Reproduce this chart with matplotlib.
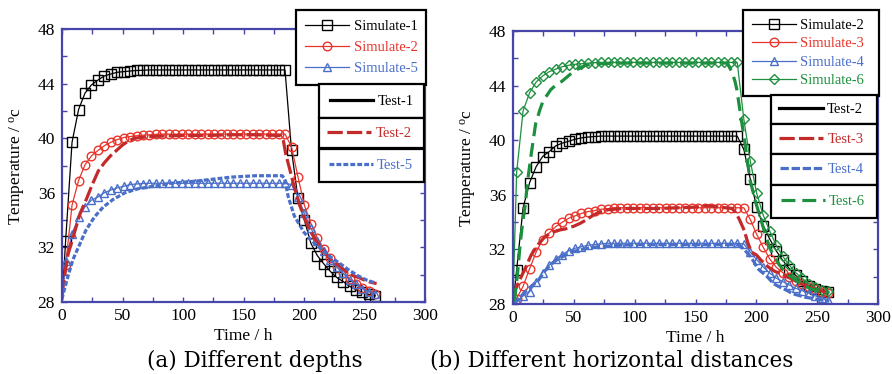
import matplotlib
matplotlib.use('Agg')
import matplotlib.pyplot as plt
from matplotlib.lines import Line2D
from matplotlib.ticker import MultipleLocator

plt.rcParams['font.family'] = 'Liberation Serif'
plt.rcParams['mathtext.fontset'] = 'custom'
plt.rcParams['mathtext.rm'] = 'Liberation Serif'
plt.rcParams['mathtext.it'] = 'Liberation Serif:italic'
plt.rcParams['lines.scale_dashes'] = False

# ---------------- data ----------------
t_sim = [0.0, 3.0, 8.3, 13.7, 19.0, 24.3, 29.7, 35.0, 40.3, 45.7, 51.0, 56.3, 61.7,
         67.0, 72.3, 77.7, 83.0, 88.3, 93.7, 99.0, 104.3, 109.7, 115.0, 120.3, 125.7,
         131.0, 136.3, 141.7, 147.0, 152.3, 157.7, 163.0, 168.3, 173.7, 179.0, 184.3,
         189.7, 195.0, 200.3, 205.7, 211.0, 216.3, 221.7, 227.0, 232.3, 237.7, 243.0,
         248.3, 253.7, 259.0]

# panel (a)
sim1_a = [28.0, 32.5, 39.7, 42.1, 43.3, 43.9, 44.26, 44.56, 44.7, 44.83, 44.88, 44.92, 44.96,
          44.98, 45.0, 45.0, 45.0, 45.0, 45.0, 45.0, 45.0, 45.0, 45.0, 45.0, 45.0,
          45.0, 45.0, 45.0, 45.0, 45.0, 45.0, 45.0, 45.0, 45.0, 45.0, 45.0,
          39.1, 35.6, 34.0, 32.3, 31.4, 30.8, 30.25, 29.8, 29.5, 29.15, 28.9,
          28.7, 28.55, 28.45]
sim2_a = [28.3, 30.7, 35.1, 36.9, 38.05, 38.7, 39.1, 39.45, 39.7, 39.9, 40.05, 40.12, 40.18,
          40.22, 40.25, 40.28, 40.3, 40.3, 40.3, 40.3, 40.3, 40.3, 40.3, 40.3, 40.3,
          40.3, 40.3, 40.3, 40.3, 40.3, 40.3, 40.3, 40.3, 40.3, 40.3, 40.3,
          39.37, 37.17, 35.1, 33.75, 32.7, 31.9, 31.25, 30.6, 30.1, 29.7, 29.35,
          29.05, 28.8, 28.6]
sim5_a = [28.0, 31.0, 33.0, 34.2, 34.97, 35.46, 35.7, 36.0, 36.2, 36.36, 36.48, 36.6, 36.65,
          36.68, 36.7, 36.7, 36.7, 36.7, 36.7, 36.7, 36.7, 36.7, 36.7, 36.7, 36.7,
          36.7, 36.7, 36.7, 36.7, 36.7, 36.7, 36.7, 36.7, 36.7, 36.7, 36.7,
          36.6, 35.7, 34.5, 33.4, 32.5, 31.7, 31.05, 30.57, 30.1, 29.64, 29.3,
          28.98, 28.73, 28.6]

t_test2_a = [0, 2, 5, 10, 15, 20, 25, 30, 35, 40, 45, 50, 55, 60, 70, 80, 100, 120, 140, 160,
             180, 183, 185, 188, 192, 196, 200, 205, 210, 215, 220, 225, 230, 235, 240, 245,
             250, 255, 260]
test2_a = [28.5, 29.8, 31.5, 33.0, 34.5, 35.5, 36.6, 37.6, 38.2, 38.7, 39.1, 39.5, 39.8, 40.0,
           40.1, 40.15, 40.2, 40.2, 40.25, 40.25, 40.2, 39.8, 38.8, 37.8, 36.4, 35.2, 34.2,
           33.2, 32.5, 31.9, 31.3, 30.9, 30.6, 30.2, 29.95, 29.8, 29.6, 29.45, 29.35]

t_test5_a = [0, 1, 5, 9, 15, 20, 27, 34, 42, 52, 63, 77, 90, 110, 125, 140, 160, 182, 184, 187,
             192, 196, 200, 205, 210, 215, 222, 230, 237, 245, 252, 259]
test5_a = [28.2, 28.6, 29.9, 31.1, 32.3, 33.3, 34.25, 34.95, 35.5, 36.0, 36.3, 36.5, 36.7,
           36.85, 37.0, 37.15, 37.25, 37.25, 37.0, 35.7, 34.3, 33.7, 33.1, 32.6, 32.2, 31.8,
           31.3, 30.8, 30.35, 29.9, 29.6, 29.4]

# panel (b)
sim2_b = [28.0, 30.5, 35.06, 36.9, 38.06, 38.8, 39.16, 39.58, 39.78, 39.92, 40.07, 40.17, 40.23,
          40.27, 40.3, 40.3, 40.3, 40.3, 40.3, 40.3, 40.3, 40.3, 40.3, 40.3, 40.3,
          40.3, 40.3, 40.3, 40.3, 40.3, 40.3, 40.3, 40.3, 40.3, 40.3, 40.3,
          39.33, 37.16, 35.08, 33.74, 32.76, 31.9, 31.2, 30.6, 30.1, 29.65, 29.35,
          29.12, 28.97, 28.9]
sim3_b = [28.0, 28.4, 29.3, 30.6, 31.8, 32.7, 33.2, 33.66, 33.98, 34.28, 34.45, 34.64, 34.77,
          34.84, 34.94, 34.98, 35.05, 35.05, 35.05, 35.05, 35.05, 35.05, 35.05, 35.05, 35.05,
          35.05, 35.05, 35.05, 35.05, 35.05, 35.05, 35.05, 35.05, 35.05, 35.05, 35.05,
          35.05, 34.2, 33.1, 32.15, 31.3, 30.7, 30.3, 29.95, 29.7, 29.45, 29.25,
          29.08, 28.9, 28.8]
sim4_b = [28.0, 28.2, 28.6, 28.9, 29.6, 30.3, 30.85, 31.3, 31.62, 31.9, 32.08, 32.2, 32.3,
          32.36, 32.4, 32.45, 32.45, 32.45, 32.45, 32.45, 32.45, 32.45, 32.45, 32.45, 32.45,
          32.45, 32.45, 32.45, 32.45, 32.45, 32.45, 32.45, 32.45, 32.45, 32.45, 32.45,
          32.4, 31.8, 31.25, 30.7, 30.27, 29.9, 29.64, 29.4, 29.15, 28.98, 28.8,
          28.6, 28.45, 28.3]
sim6_b = [28.3, 37.65, 42.16, 43.48, 44.26, 44.7, 45.02, 45.2, 45.38, 45.49, 45.56, 45.6, 45.65,
          45.68, 45.7, 45.7, 45.7, 45.7, 45.7, 45.7, 45.7, 45.7, 45.7, 45.7, 45.7,
          45.7, 45.7, 45.7, 45.7, 45.7, 45.7, 45.7, 45.7, 45.7, 45.7, 45.7,
          41.55, 38.48, 36.1, 34.5, 33.35, 32.3, 31.5, 30.86, 30.3, 29.88, 29.5,
          29.22, 29.03, 28.95]

t_test3_b = [0, 1.6, 6, 10, 15, 21, 26, 31, 37, 43, 50, 55, 60, 65, 70, 78, 90, 120, 150, 160,
             180, 183, 186, 190, 193, 196, 200, 204, 210, 215, 220, 225, 230, 236, 245, 252, 260]
test3_b = [28.5, 29.0, 29.85, 30.6, 31.6, 32.4, 32.9, 33.2, 33.4, 33.5, 33.7, 33.9, 34.15, 34.45,
           34.7, 34.9, 35.0, 35.0, 35.1, 35.2, 35.0, 34.7, 34.2, 33.4, 32.5, 31.8, 31.6, 31.2,
           30.7, 30.4, 30.2, 30.0, 29.8, 29.5, 29.2, 29.0, 28.8]

t_test4_b = [0, 3, 10, 15, 21, 26, 32, 37, 43, 48, 54, 62, 70, 87, 100, 183, 186, 190, 194, 198,
             201, 205, 209, 214, 220, 225, 230, 240, 250, 260]
test4_b = [28.0, 28.2, 28.9, 29.3, 29.75, 30.4, 30.96, 31.3, 31.57, 31.8, 31.95, 32.1, 32.2,
           32.3, 32.35, 32.35, 32.3, 32.0, 31.6, 31.1, 30.6, 30.3, 30.0, 29.5, 29.2, 29.0,
           28.75, 28.5, 28.35, 28.2]

t_test6_b = [0, 1.6, 4, 6, 8, 10, 12, 15, 18.6, 22, 25, 28, 31, 36, 40, 44, 48, 55, 60, 70, 90,
             176, 180, 182.5, 184, 186.5, 190.6, 194.8, 199, 203, 207, 211, 214, 218, 222, 227,
             233, 238, 245, 252, 260]
test6_b = [28.2, 28.5, 30.5, 32.5, 34.0, 35.2, 37.0, 39.0, 41.2, 42.2, 42.95, 43.3, 43.7, 44.1,
           44.3, 44.6, 44.9, 45.3, 45.5, 45.6, 45.65, 45.65, 45.0, 44.3, 43.7, 42.2, 39.8, 37.1,
           35.6, 34.4, 33.2, 32.1, 31.6, 31.0, 30.5, 30.1, 29.7, 29.4, 29.1, 28.95, 28.85]

x_ticks = [0, 50, 100, 150, 200, 250, 300]
y_ticks = [28, 32, 36, 40, 44, 48]

# ---------------- styling ----------------
SPINE = '#4646a8'
BLACK = '#000000'
RED = '#e8352c'
DRED = '#c42a2a'
BLUE = '#4a6fc8'
GREEN = '#1e8f3e'

W, H = 892, 374
fig = plt.figure(figsize=(W / 100, H / 100), dpi=100)
axA = fig.add_axes([62 / W, 1 - 302 / H, 363 / W, 273 / H])
axB = fig.add_axes([513 / W, 1 - 304 / H, 365 / W, 273 / H])


def style(ax):
    ax.set_xlim(0, 300)
    ax.set_ylim(28, 48)
    ax.set_xticks(x_ticks)
    ax.set_yticks(y_ticks)
    ax.xaxis.set_minor_locator(MultipleLocator(25))
    ax.yaxis.set_minor_locator(MultipleLocator(2))
    ax.tick_params(which='both', direction='in', top=True, right=True,
                   color=SPINE, length=3.5, width=1.0)
    ax.tick_params(which='major', labelsize=12.5, pad=5)
    ax.tick_params(axis='x', which='major', pad=4)
    for s in ax.spines.values():
        s.set_color(SPINE)
        s.set_linewidth(1.6)
    ax.set_xlabel('Time / h', fontsize=12.5, labelpad=3)
    ax.set_ylabel('Temperature / $^{\\mathrm{o}}$c', fontsize=12.5, labelpad=7)


sim_kw = dict(lw=0.9, mfc='none', mew=1.0, markevery=slice(1, None), clip_on=True)


def sim(ax, y, color, marker, ms):
    ax.plot(t_sim, y, color=color, marker=marker, ms=ms, mec=color, **sim_kw)


style(axA)
style(axB)

sim(axA, sim1_a, BLACK, 's', 6.8)
sim(axA, sim2_a, RED, 'o', 6.2)
sim(axA, sim5_a, BLUE, '^', 6.2)
axA.plot(t_test2_a, test2_a, color=DRED, lw=2.3, dashes=(11, 3))
axA.plot(t_test5_a, test5_a, color=BLUE, lw=2.3, dashes=(3.5, 1.5))

sim(axB, sim2_b, BLACK, 's', 6.8)
sim(axB, sim3_b, RED, 'o', 6.2)
sim(axB, sim4_b, BLUE, '^', 6.2)
sim(axB, sim6_b, GREEN, 'D', 5.0)
axB.plot(t_test3_b, test3_b, color=DRED, lw=2.3, dashes=(11, 3))
axB.plot(t_test4_b, test4_b, color=BLUE, lw=2.3, dashes=(6, 2))
axB.plot(t_test6_b, test6_b, color=GREEN, lw=2.3, dashes=(10, 5))


# ---------------- legends ----------------
def legend(handles, labels, x0, ytop, x1, bpad, lspace=0.3, hl=3.0):
    leg = fig.legend(handles, labels, loc='upper left',
                     bbox_to_anchor=(x0 / W, 1 - ytop / H, (x1 - x0) / W, 0),
                     mode='expand', borderaxespad=0, fontsize=10.5,
                     frameon=True, fancybox=False, edgecolor='black', framealpha=1,
                     borderpad=bpad, labelspacing=lspace, handlelength=hl,
                     handletextpad=0.3, numpoints=1, labelcolor='linecolor')
    leg.get_frame().set_linewidth(1.6)
    return leg


def sh(color, marker, ms):
    return Line2D([], [], color=color, lw=0.9, marker=marker, ms=ms, mfc='none', mec=color, mew=1.0)


legend([sh(BLACK, 's', 6.8), sh(RED, 'o', 6.2), sh(BLUE, '^', 6.2)],
       ['Simulate-1', 'Simulate-2', 'Simulate-5'], 296, 10, 426, 0.65, lspace=0.55)
legend([Line2D([], [], color=BLACK, lw=2.3)], ['Test-1'], 319, 84, 424, 0.72)
legend([Line2D([], [], color=DRED, lw=2.3, dashes=(11, 3))], ['Test-2'], 319, 118, 424, 0.58)
legend([Line2D([], [], color=BLUE, lw=2.3, dashes=(3.5, 1.5))], ['Test-5'], 319, 149, 424, 0.68)

legend([sh(BLACK, 's', 6.8), sh(RED, 'o', 6.2), sh(BLUE, '^', 6.2), sh(GREEN, 'D', 5.0)],
       ['Simulate-2', 'Simulate-3', 'Simulate-4', 'Simulate-6'], 743, 10, 879, 0.6, lspace=0.36)
legend([Line2D([], [], color=BLACK, lw=2.3)], ['Test-2'], 771, 95, 877, 0.55)
legend([Line2D([], [], color=DRED, lw=2.3, dashes=(11, 3))], ['Test-3'], 771, 124, 877, 0.58)
legend([Line2D([], [], color=BLUE, lw=2.3, dashes=(6, 2))], ['Test-4'], 771, 154, 877, 0.62)
legend([Line2D([], [], color=GREEN, lw=2.3, dashes=(10, 5))], ['Test-6'], 771, 185, 877, 0.68)

fig.text(255 / W, 1 - 361 / H, '(a) Different depths', ha='center', va='center',
         fontsize=15.5, family='DejaVu Serif')
fig.text(612 / W, 1 - 361 / H, '(b) Different horizontal distances', ha='center', va='center',
         fontsize=15.5, family='DejaVu Serif')

fig.savefig('out.png', dpi=100)
